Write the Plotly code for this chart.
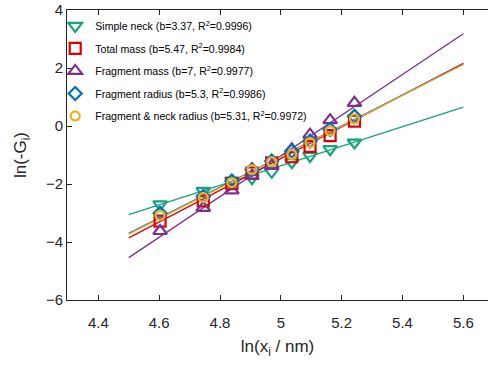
import plotly.graph_objects as go

# data
x_pts = [4.603, 4.745, 4.839, 4.905, 4.970, 5.036, 5.096, 5.162, 5.242]

y_neck = [-2.70, -2.24, -1.88, -1.80, -1.58, -1.25, -1.03, -0.80, -0.57]
y_total = [-3.28, -2.58, -1.99, -1.62, -1.27, -1.06, -0.70, -0.33, 0.17]
y_fmass = [-3.62, -2.82, -2.22, -1.72, -1.36, -0.80, -0.30, 0.20, 0.80]
y_frad = [-3.01, -2.43, -1.90, -1.50, -1.21, -0.86, -0.52, -0.12, 0.33]
y_fnrad = [-3.08, -2.47, -1.95, -1.50, -1.23, -0.98, -0.57, -0.17, 0.25]

fit_x = [4.5, 5.6]
fit_neck = [-3.06, 0.655]
fit_total = [-3.86, 2.16]
fit_fmass = [-4.54, 3.18]
fit_frad = [-3.70, 2.13]
fit_fnrad = [-3.73, 2.12]

names = [
    "Simple neck (b=3.37, R<sup>2</sup>=0.9996)",
    "Total mass (b=5.47, R<sup>2</sup>=0.9984)",
    "Fragment mass (b=7, R<sup>2</sup>=0.9977)",
    "Fragment radius (b=5.3, R<sup>2</sup>=0.9986)",
    "Fragment & neck radius (b=5.31, R<sup>2</sup>=0.9972)",
]
colors = ["#15a47c", "#e00000", "#7e2f8e", "#0072bd", "#edb120"]
symbols = ["triangle-down-open", "square-open", "triangle-up-open", "diamond-open", "circle-open"]
sizes = [12, 11, 12, 10, 9]

ys = [y_neck, y_total, y_fmass, y_frad, y_fnrad]
fits = [fit_neck, fit_total, fit_fmass, fit_frad, fit_fnrad]

fig = go.Figure()
for f, c in zip(fits, colors):
    fig.add_trace(go.Scatter(x=fit_x, y=f, mode="lines", line=dict(color=c, width=1.3),
                             showlegend=False, hoverinfo="skip"))
for i, (y, n, c, s, sz) in enumerate(zip(ys, names, colors, symbols, sizes)):
    fig.add_trace(go.Scatter(x=x_pts, y=y, mode="markers", name=n, legendgroup=f"g{i}",
                             marker=dict(symbol=s, size=sz, color=c, line=dict(width=2.2, color=c))))

axis_font = dict(family="Liberation Sans, Arial, sans-serif", size=15, color="#262626")
fig.update_layout(
    width=488, height=367,
    margin=dict(l=67, r=0, t=10, b=67),
    paper_bgcolor="white", plot_bgcolor="white",
    font=dict(family="Liberation Sans, Arial, sans-serif", color="#262626"),
    showlegend=True,
    legend=dict(x=-0.028, y=0.995, xanchor="left", yanchor="top", bgcolor="rgba(0,0,0,0)",
                font=dict(size=10.6, color="#000000"), itemwidth=30, tracegroupgap=3.5),
    xaxis=dict(range=[4.297, 5.681], tickvals=[4.4, 4.6, 4.8, 5, 5.2, 5.4, 5.6],
               ticktext=["4.4", "4.6", "4.8", "5", "5.2", "5.4", "5.6"],
               ticks="inside", ticklen=5, tickcolor="#262626", showline=True, linecolor="#262626",
               linewidth=1, mirror="ticks", showgrid=False, zeroline=False, tickfont=axis_font,
               ticklabelstandoff=9,
               title=dict(text="ln(x<sub>i</sub> / nm)", font=dict(size=17, color="#262626"), standoff=10)),
    yaxis=dict(range=[-6, 4], tickvals=[-6, -4, -2, 0, 2, 4],
               ticks="inside", ticklen=5, tickcolor="#262626", showline=True, linecolor="#262626",
               linewidth=1, mirror=False, showgrid=False, zeroline=False, tickfont=axis_font,
               title=dict(text="ln(-G<sub>i</sub>)", font=dict(size=17, color="#262626"), standoff=14)),
)
fig.write_html("out.html")
